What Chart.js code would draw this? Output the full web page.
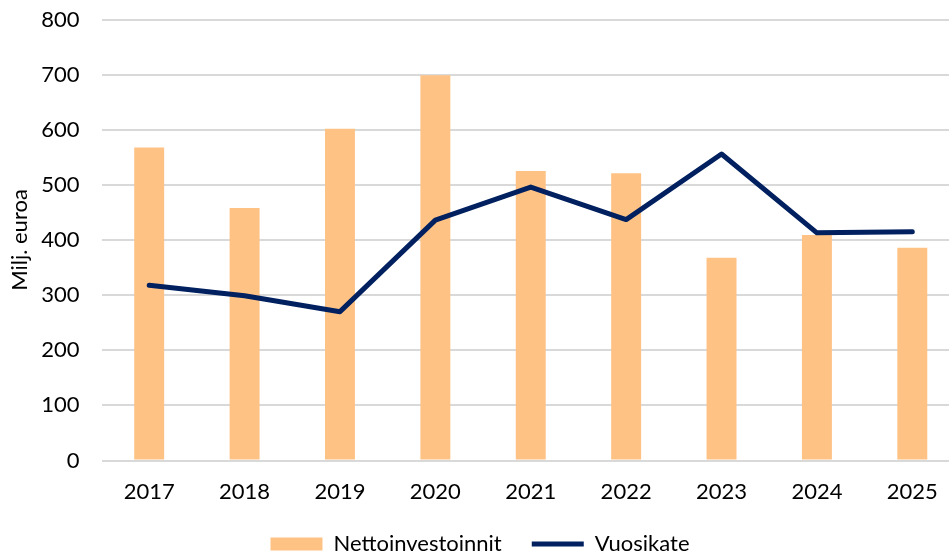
<!DOCTYPE html>
<html>
<head>
<meta charset="utf-8">
<script src="https://cdn.jsdelivr.net/npm/chart.js@4"></script>
<style>
  body { margin: 0; overflow: hidden; background: #fff; }
  #wrap { width: 949px; height: 556px; overflow: hidden; }
</style>
</head>
<body>
<div id="wrap"><canvas id="chart1" width="966" height="556"></canvas></div>
<script>
// data
const years = ['2017', '2018', '2019', '2020', '2021', '2022', '2023', '2024', '2025'];
const nettoinvestoinnit = [568, 458, 602, 699, 525, 521, 368, 409, 386];
const vuosikate = [318, 299, 270, 436, 496, 437, 556, 413, 415];

const fontName = 'Lato';
const textColor = '#000000';

// fixed legend height so it sits low like the excel one
const legendFix = {
  id: 'legendFix',
  beforeLayout(chart) {
    let lg = chart.legend;
    if (lg && !lg._fixed) {
      const origFit = lg.fit;
      lg.fit = function () {
        origFit.call(this);
        this.height = 53;
      };
      lg._fixed = true;
    }
  }
};

let ctx = document.getElementById('chart1');

let myChart1 = new Chart(ctx, {
  type: 'bar',
  data: {
    labels: years,
    datasets: [
      {
        type: 'line',
        label: 'Vuosikate',
        data: vuosikate,
        borderColor: '#002060',
        backgroundColor: '#002060',
        borderWidth: 5,
        borderCapStyle: 'round',
        borderJoinStyle: 'round',
        pointRadius: 0,
        pointStyle: 'line',
        tension: 0,
        order: 0
      },
      {
        type: 'bar',
        label: 'Nettoinvestoinnit',
        data: nettoinvestoinnit,
        backgroundColor: '#ffc285',
        borderWidth: 0,
        pointStyle: 'rect',
        barPercentage: 0.314,
        categoryPercentage: 1,
        order: 1
      }
    ]
  },
  plugins: [legendFix],
  options: {
    responsive: false,
    animation: false,
    layout: { padding: { left: 0, right: 6, top: 19.5, bottom: 0 } },
    plugins: {
      tooltip: { enabled: false },
      legend: {
        position: 'bottom',
        reverse: true,
        labels: {
          usePointStyle: true,
          pointStyleWidth: 52,
          boxHeight: 13,
          padding: 30,
          color: textColor,
          font: { family: fontName, size: 22 }
        }
      }
    },
    scales: {
      x: {
        afterFit: function (scale) { scale.height = 42.5; },
        grid: { display: false, drawTicks: false, tickLength: 0 },
        border: { display: false },
        ticks: {
          color: textColor,
          padding: 20.5,
          maxRotation: 0,
          font: { family: fontName, size: 22, lineHeight: 1 }
        }
      },
      y: {
        min: 0,
        max: 800,
        afterFit: function (scale) {
          scale.width = 101.5;
          scale.paddingTop = 0;
          scale.paddingBottom = 0;
        },
        grid: { color: '#d9d9d9', lineWidth: 2, drawTicks: false },
        border: { display: false },
        ticks: {
          stepSize: 100,
          color: textColor,
          padding: 22,
          font: { family: fontName, size: 22 }
        },
        title: {
          display: true,
          text: 'Milj. euroa',
          color: textColor,
          padding: { top: 7, bottom: 0 },
          font: { family: fontName, size: 22 }
        }
      }
    }
  }
});
</script>
</body>
</html>
